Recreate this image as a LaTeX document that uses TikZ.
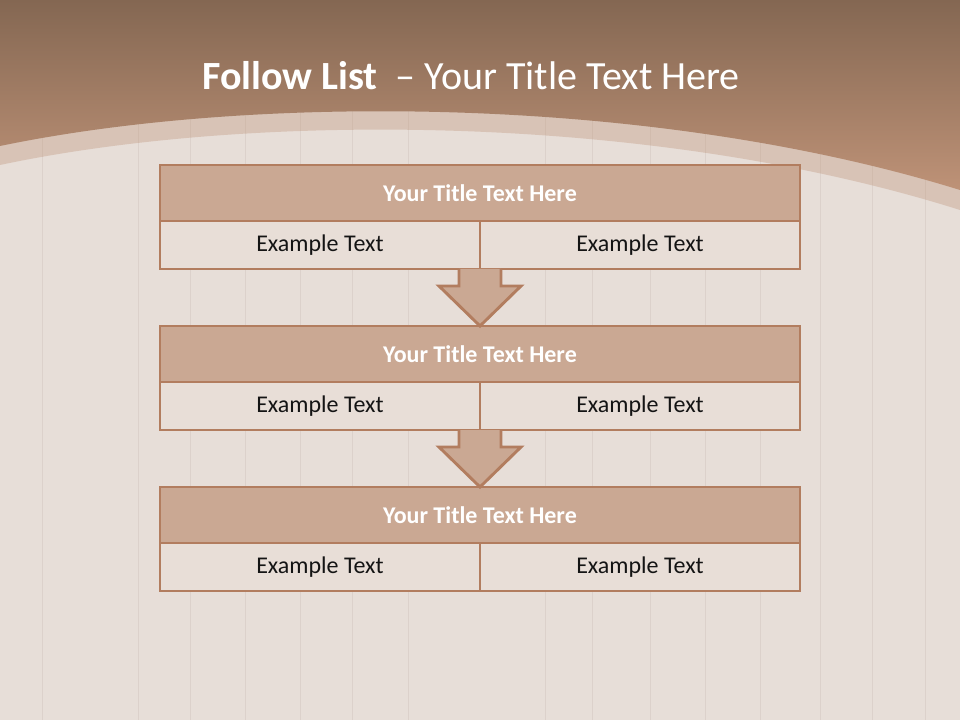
\documentclass[tikz,border=0pt]{standalone}
\usepackage{fontspec}
\setmainfont{Carlito}
\usepackage{tikz}
\usetikzlibrary{positioning,calc}
\definecolor{flbrowntop}{RGB}{132,103,82}
\definecolor{flbrownbot}{RGB}{190,146,119}
\definecolor{flwood}{RGB}{231,222,216}
\definecolor{flseam}{RGB}{220,209,203}
\definecolor{fledge}{RGB}{178,125,95}
\definecolor{flhead}{RGB}{202,168,147}
\definecolor{flcell}{RGB}{232,222,215}
\definecolor{flink}{RGB}{20,20,20}
\tikzset{
  flbox/.style={
    draw=fledge, line width=2.2pt, inner sep=0pt, outer sep=0pt
  },
  headbox/.style={
    flbox, fill=flhead, minimum width=480pt, minimum height=42pt,
    text=white, font=\fontsize{18}{21}\selectfont\bfseries
  },
  cellbox/.style={
    flbox, fill=flcell, minimum width=240pt, minimum height=36pt,
    text=flink, font=\fontsize{18}{21}\selectfont
  },
  downarrow/.style={draw=fledge, line width=2.2pt, fill=flhead, line join=miter},
  seam/.style={draw=flseam, line width=0.6pt}
}
\begin{document}
\begin{tikzpicture}[x=0.75pt, y=-0.75pt]
  \useasboundingbox (0,0) rectangle (960,720);
  % wood background
  \fill[flwood] (0,0) rectangle (960,720);
  \foreach \sx in {42,138,190,245,300,352,408,545,592,650,705,760,820,872,925}
    \draw[seam] (\sx,100) -- (\sx,720);
  % header band
  \fill[flbrownbot, opacity=0.35] (0,0) -- (0,165)
    .. controls (250,112) and (650,112) .. (960,210) -- (960,0) -- cycle;
  \shade[top color=flbrowntop, bottom color=flbrownbot] (0,0) -- (0,146)
    .. controls (250,94) and (650,94) .. (960,190) -- (960,0) -- cycle;
  \node[text=white, font=\fontsize{30}{36}\selectfont] (title) at (471,76)
    {\textbf{Follow List}\ \ – Your Title Text Here};

  % the three steps
  \foreach \i/\ty in {1/165,2/326,3/487} {
    \node[headbox, anchor=north] (h\i) at (480,\ty) {Your Title Text Here};
    \node[cellbox, anchor=north west] (l\i) at (h\i.south west) {Example Text};
    \node[cellbox, anchor=north east] (r\i) at (h\i.south east) {Example Text};
  }

  % arrows between steps
  \foreach \i/\j in {1/2,2/3} {
    \draw[downarrow] ($(l\i.south east)+(-21,0)$) -- ($(l\i.south east)+(-21,17)$)
      -- ($(l\i.south east)+(-41,17)$) -- (h\j.north)
      -- ($(l\i.south east)+(41,17)$) -- ($(l\i.south east)+(21,17)$)
      -- ($(l\i.south east)+(21,0)$);
  }
\end{tikzpicture}
\end{document}
